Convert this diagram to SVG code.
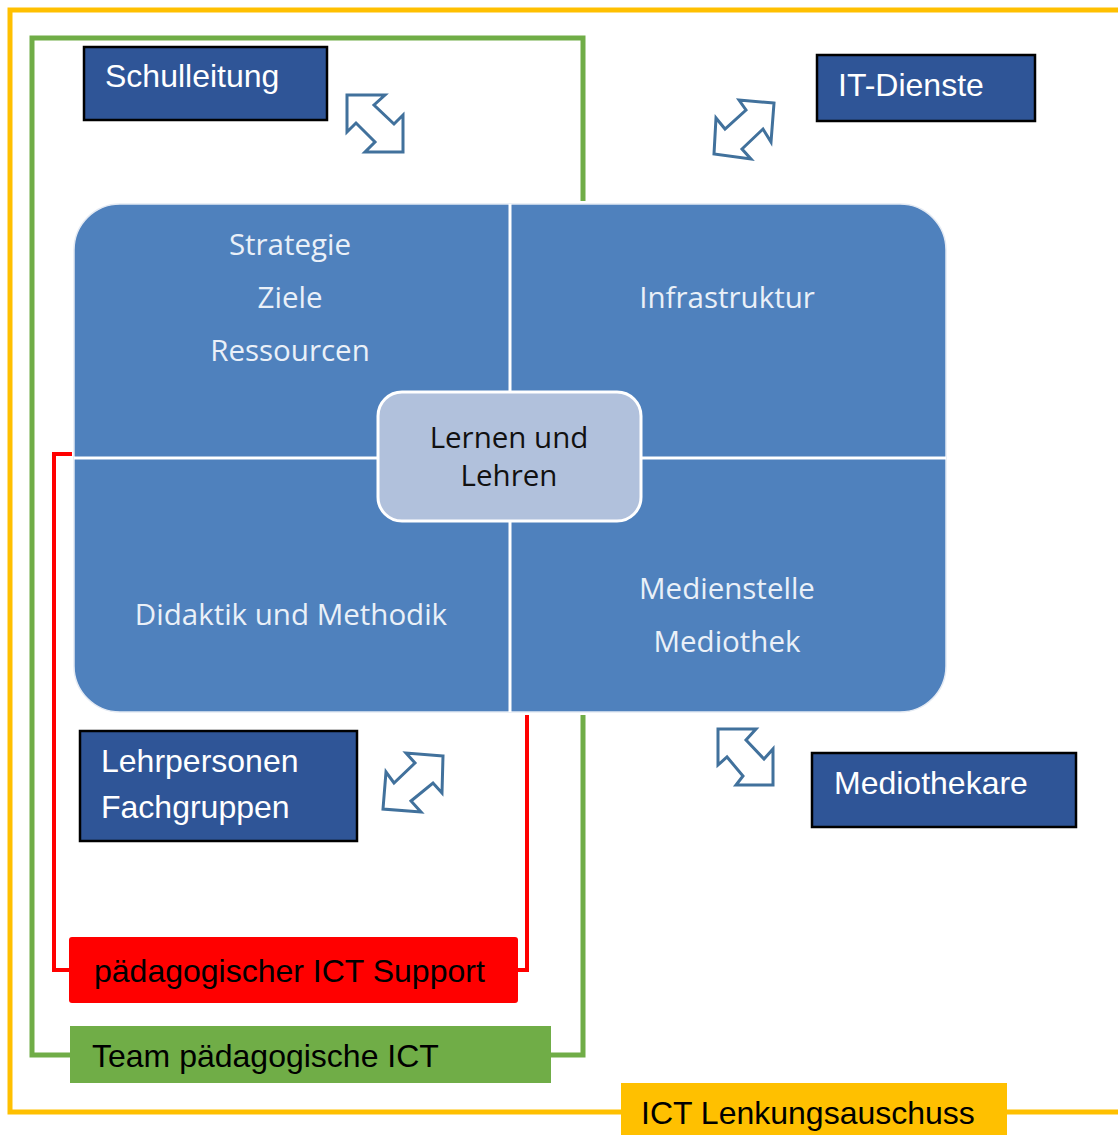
<svg xmlns="http://www.w3.org/2000/svg" width="1118" height="1135" viewBox="0 0 1118 1135">
<defs>
<style>
.navy{fill:#2F5597;stroke:#000;stroke-width:2.5}
.navyt{font-family:"Liberation Sans",Arial,sans-serif;font-size:32px;fill:#fff}
.lbl{font-family:"Liberation Sans",Arial,sans-serif;font-size:32px;fill:#000}
.qt{font-family:"Open Sans","Noto Sans",sans-serif;font-size:29.5px;fill:#EAF0F8;text-anchor:middle}
.arr{fill:#fff;stroke:#41719C;stroke-width:3;stroke-linejoin:miter}
</style>
</defs>
<rect width="1118" height="1135" fill="#fff"/>
<g id="connectors" fill="none">
  <path d="M1118,10 L10,10 L10,1112 L622,1112 M1006,1112 L1118,1112" stroke="#FFC000" stroke-width="5"/>
  <path d="M72,1055 L32,1055 L32,38 L583,38 L583,201 M583,715 L583,1055 L550,1055" stroke="#70AD47" stroke-width="5"/>
  <path d="M72,454 L54,454 L54,970 L70,970 M527,715 L527,970 L517,970" stroke="#FF0000" stroke-width="4"/>
  <path class="arr" d="M347,95 L385,95 L374,105 L394,124 L403,115 L403,152 L365,152 L375,142 L356,123 L347,132 Z"/>
  <path class="arr" d="M774,103 L739,100 L746,110 L725,129 L716,118 L714,154 L751,159 L742,149 L763,129 L771,142 Z"/>
  <path class="arr" d="M443,756 L406,753 L415,763 L394,783 L386,772 L383,809 L421,812 L411,801 L433,783 L442,793 Z"/>
  <path class="arr" d="M718,729 L756,729 L746,740 L764,759 L773,749 L773,785 L736,785 L743,776 L727,757 L718,765 Z"/>
</g>
<g id="main-box">
  <rect x="74" y="204" width="872" height="508" rx="46" fill="#4F81BD" stroke="#E4EAF3" stroke-width="1.5"/>
  <line x1="510" y1="204" x2="510" y2="712" stroke="#fff" stroke-width="3"/>
  <line x1="74" y1="458" x2="946" y2="458" stroke="#fff" stroke-width="3"/>
  <text class="qt" x="290" y="255">Strategie</text>
  <text class="qt" x="290" y="308">Ziele</text>
  <text class="qt" x="290" y="361">Ressourcen</text>
  <text class="qt" x="727" y="308">Infrastruktur</text>
  <text class="qt" x="291" y="625">Didaktik und Methodik</text>
  <text class="qt" x="727" y="599">Medienstelle</text>
  <text class="qt" x="727" y="652">Mediothek</text>
</g>
<g id="center">
  <rect x="378" y="392" width="263" height="129" rx="24" fill="#B1C1DC" stroke="#fff" stroke-width="3"/>
  <text class="qt" x="509" y="448" style="fill:#111">Lernen und</text>
  <text class="qt" x="509" y="486" style="fill:#111">Lehren</text>
</g>
<g id="schulleitung">
  <rect class="navy" x="84" y="47" width="243" height="73"/>
  <text class="navyt" x="105" y="87">Schulleitung</text>
</g>
<g id="it-dienste">
  <rect class="navy" x="817" y="55" width="218" height="66"/>
  <text class="navyt" x="838" y="96">IT-Dienste</text>
</g>
<g id="lehrpersonen">
  <rect class="navy" x="80" y="731" width="277" height="110"/>
  <text class="navyt" x="101" y="772">Lehrpersonen</text>
  <text class="navyt" x="101" y="818">Fachgruppen</text>
</g>
<g id="mediothekare">
  <rect class="navy" x="812" y="753" width="264" height="74"/>
  <text class="navyt" x="834" y="794">Mediothekare</text>
</g>
<g id="support">
  <rect x="69" y="937" width="449" height="66" rx="3" fill="#FF0000"/>
  <text class="lbl" x="94" y="982">pädagogischer ICT Support</text>
</g>
<g id="team">
  <rect x="70" y="1026" width="481" height="57" fill="#70AD47"/>
  <text class="lbl" x="92" y="1067">Team pädagogische ICT</text>
</g>
<g id="lenkung">
  <rect x="621" y="1083" width="386" height="52" fill="#FFC000"/>
  <text class="lbl" x="641" y="1124">ICT Lenkungsauschuss</text>
</g>
</svg>
